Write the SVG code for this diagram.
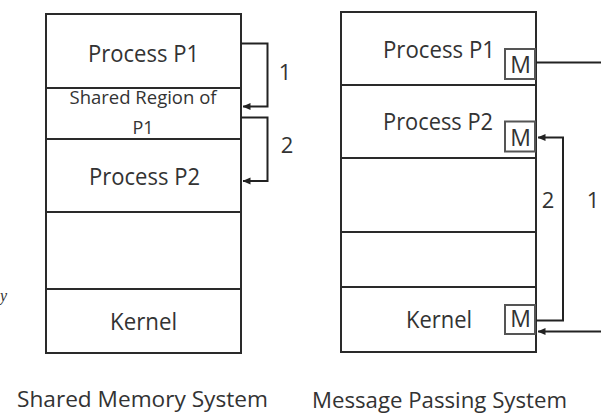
<svg xmlns="http://www.w3.org/2000/svg" width="601" height="419" viewBox="0 0 601 419">
<style>
.box{fill:#fff;stroke:#2a2a2a;stroke-width:2}
.div{stroke:#2a2a2a;stroke-width:2.2}
.t{font-family:"Open Sans","Liberation Sans",sans-serif;fill:#333;text-anchor:middle}
.big{font-size:24px}
.mid{font-size:18px}
.cap{font-size:22px}
.m{font-family:"Open Sans","Liberation Sans",sans-serif;font-size:23px;fill:#333;text-anchor:middle}
.mb{fill:#fff;stroke:#555;stroke-width:2}
.c{fill:none;stroke:#222;stroke-width:2}
</style>
<defs>
<marker id="ah" viewBox="0 0 8 8" refX="7.5" refY="4" markerWidth="8" markerHeight="8" markerUnits="userSpaceOnUse" orient="auto">
<path d="M0,0.5 L8,4 L0,7.5 Z" fill="#222"/>
</marker>
</defs>
<rect width="601" height="419" fill="#fff"/>

<text x="0" y="301" font-family="Liberation Serif,serif" font-style="italic" font-size="16" fill="#333">y</text>

<g id="shared-memory">
<rect class="box" x="46" y="14" width="195" height="339"/>
<line class="div" x1="46" y1="88" x2="241" y2="88"/>
<line class="div" x1="46" y1="139" x2="241" y2="139"/>
<line class="div" x1="46" y1="212" x2="241" y2="212"/>
<line class="div" x1="46" y1="289" x2="241" y2="289"/>
</g>
<g id="sm-p1"><text class="t big" x="143.5" y="62" textLength="111" lengthAdjust="spacingAndGlyphs">Process P1</text></g>
<g id="sm-shared"><text class="t mid" x="143" y="104" textLength="147" lengthAdjust="spacingAndGlyphs">Shared Region of</text>
<text class="t mid" x="143" y="134">P1</text></g>
<g id="sm-p2"><text class="t big" x="144.5" y="185" textLength="111" lengthAdjust="spacingAndGlyphs">Process P2</text></g>
<g id="sm-kernel"><text class="t big" x="143.5" y="330" textLength="67" lengthAdjust="spacingAndGlyphs">Kernel</text></g>
<g id="sm-title"><text class="t cap" x="142.5" y="407" textLength="251" lengthAdjust="spacingAndGlyphs">Shared Memory System</text></g>

<g id="message-passing">
<rect class="box" x="341" y="12" width="195" height="340"/>
<line class="div" x1="341" y1="85" x2="536" y2="85"/>
<line class="div" x1="341" y1="158" x2="536" y2="158"/>
<line class="div" x1="341" y1="232" x2="536" y2="232"/>
<line class="div" x1="341" y1="287" x2="536" y2="287"/>
</g>
<g id="mp-p1"><text class="t big" x="439" y="58" textLength="112" lengthAdjust="spacingAndGlyphs">Process P1</text>
<rect class="mb" x="505" y="49" width="30" height="30"/><text class="m" x="520.5" y="72.5">M</text></g>
<g id="mp-p2"><text class="t big" x="438" y="130" textLength="110" lengthAdjust="spacingAndGlyphs">Process P2</text>
<rect class="mb" x="505" y="121.5" width="30" height="30"/><text class="m" x="520.5" y="146">M</text></g>
<g id="mp-kernel"><text class="t big" x="439" y="328" textLength="66" lengthAdjust="spacingAndGlyphs">Kernel</text>
<rect class="mb" x="505" y="305" width="30" height="29"/><text class="m" x="520.5" y="327">M</text></g>
<g id="mp-title"><text class="t cap" x="439.5" y="408" textLength="255" lengthAdjust="spacingAndGlyphs">Message Passing System</text></g>

<g id="connectors">
<path class="c" d="M241,43.5 H267.5 V106.5 H243" marker-end="url(#ah)"/>
<path class="c" d="M241,117.5 H267.5 V181 H243" marker-end="url(#ah)"/>
<path class="c" d="M536,62.5 H601"/>
<path class="c" d="M536,320.5 H563 V137.5 H538" marker-end="url(#ah)"/>
<path class="c" d="M601,331.5 H538" marker-end="url(#ah)"/>
<text class="t cap" x="285" y="80">1</text>
<text class="t cap" x="287" y="153">2</text>
<text class="t cap" x="548" y="208">2</text>
<text class="t cap" x="593" y="208">1</text>
</g>
</svg>
